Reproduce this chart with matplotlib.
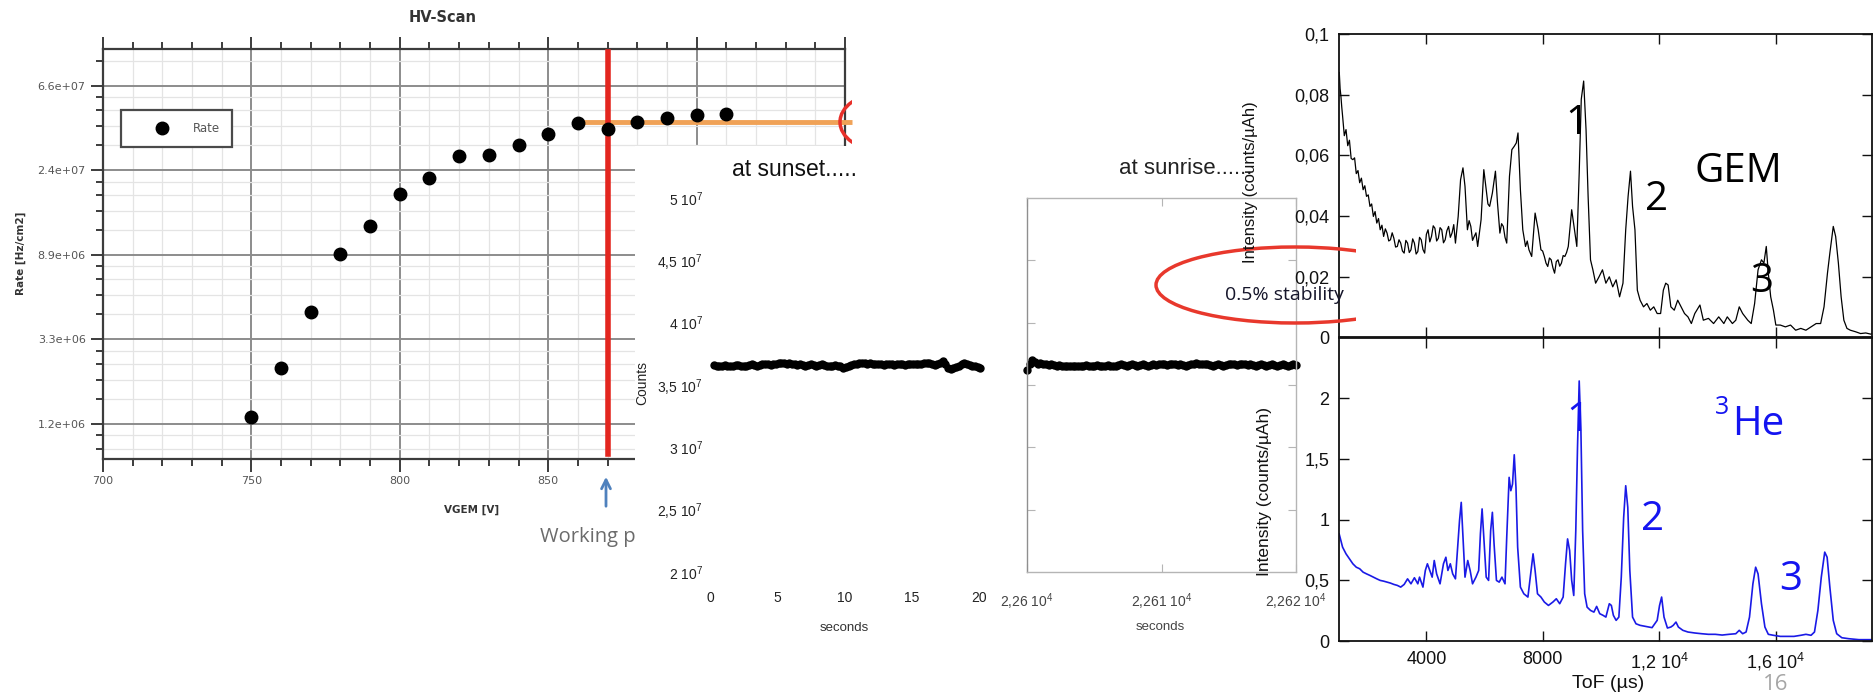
import numpy as np
import matplotlib
matplotlib.use('Agg')
import matplotlib.pyplot as plt
from matplotlib.patches import Ellipse, Rectangle
from matplotlib.transforms import Bbox, TransformedBbox
from matplotlib.ticker import FixedLocator, FuncFormatter, NullFormatter

plt.rcParams['font.family'] = ['Liberation Sans', 'DejaVu Sans']
plt.rcParams['mathtext.fontset'] = 'custom'
plt.rcParams['mathtext.rm'] = 'Liberation Sans'
plt.rcParams['mathtext.it'] = 'Liberation Sans:italic'
plt.rcParams['mathtext.bf'] = 'Liberation Sans:bold'

# ---------------- data ----------------
# HV scan
hv_volt = [750, 760, 770, 780, 790, 800, 810, 820, 830, 840, 850, 860, 870, 880, 890, 900, 910]
hv_rate = [1.31e6, 2.32e6, 4.5e6, 9.0e6, 1.25e7, 1.82e7, 2.2e7, 2.86e7, 2.89e7, 3.25e7,
           3.72e7, 4.2e7, 3.95e7, 4.28e7, 4.5e7, 4.65e7, 4.7e7]
working_v = 870
plateau_start = 860
plateau_end = 952.5
plateau_rate = 4.27e7

# stability runs (counts in units of 1e7)
sunset_counts = [3.66, 3.655, 3.65, 3.655, 3.66, 3.655, 3.65, 3.655, 3.66, 3.66,
                 3.655, 3.65, 3.655, 3.66, 3.665, 3.66, 3.655, 3.66, 3.665, 3.67,
                 3.665, 3.66, 3.665, 3.67, 3.675, 3.68, 3.675, 3.67, 3.675, 3.67,
                 3.665, 3.66, 3.665, 3.66, 3.655, 3.66, 3.665, 3.66, 3.655, 3.66,
                 3.665, 3.66, 3.655, 3.65, 3.655, 3.66, 3.655, 3.65, 3.64, 3.645,
                 3.655, 3.66, 3.665, 3.67, 3.675, 3.68, 3.675, 3.67, 3.675, 3.67,
                 3.665, 3.67, 3.665, 3.66, 3.665, 3.67, 3.665, 3.66, 3.665, 3.67,
                 3.665, 3.66, 3.665, 3.67, 3.665, 3.67, 3.665, 3.67, 3.675, 3.68,
                 3.675, 3.67, 3.66, 3.665, 3.68, 3.695, 3.67, 3.64, 3.63, 3.635,
                 3.645, 3.655, 3.665, 3.675, 3.67, 3.66, 3.655, 3.65, 3.645, 3.64]
sunset_t0, sunset_t1 = 0.3, 20.1
sunrise_counts = [3.62, 3.665, 3.70, 3.685, 3.67, 3.675, 3.665, 3.67, 3.66, 3.665,
                  3.66, 3.655, 3.66, 3.655, 3.65, 3.655, 3.65, 3.655, 3.65, 3.655,
                  3.65, 3.655, 3.66, 3.655, 3.65, 3.655, 3.66, 3.655, 3.65, 3.655,
                  3.66, 3.655, 3.65, 3.655, 3.66, 3.665, 3.66, 3.655, 3.66, 3.665,
                  3.66, 3.655, 3.66, 3.665, 3.66, 3.655, 3.66, 3.665, 3.66, 3.665,
                  3.67, 3.665, 3.66, 3.665, 3.67, 3.665, 3.66, 3.665, 3.66, 3.655,
                  3.66, 3.665, 3.67, 3.675, 3.67, 3.665, 3.67, 3.665, 3.66, 3.655,
                  3.66, 3.665, 3.66, 3.655, 3.66, 3.665, 3.67, 3.665, 3.66, 3.665,
                  3.67, 3.665, 3.66, 3.665, 3.66, 3.655, 3.66, 3.665, 3.66, 3.655,
                  3.66, 3.665, 3.66, 3.655, 3.66, 3.665, 3.66, 3.655, 3.66, 3.665, 3.66]
sunrise_t0, sunrise_t1 = 22600.0, 22620.0

# ToF spectra
tof_gem = [1010, 1038, 1065, 1094, 1123, 1182, 1241, 1300, 1358, 1417, 1476, 1535, 1593, 1652,
           1710, 1769, 1828, 1886, 1945, 2004, 2063, 2121, 2180, 2239, 2297, 2356, 2415, 2474,
           2532, 2591, 2650, 2708, 2767, 2826, 2884, 2943, 3002, 3060, 3119, 3178, 3237, 3295,
           3354, 3413, 3471, 3530, 3589, 3648, 3706, 3765, 3824, 3882, 3941, 4000, 4058, 4117,
           4176, 4235, 4293, 4352, 4411, 4470, 4528, 4587, 4645, 4704, 4763, 4822, 4880, 4940,
           4998, 5092, 5174, 5256, 5326, 5409, 5468, 5526, 5585, 5643, 5702, 5761, 5878, 5972,
           6054, 6113, 6172, 6266, 6371, 6442, 6524, 6583, 6641, 6700, 6759, 6853, 6935,
           7017, 7087, 7146, 7228, 7310, 7404, 7463, 7522, 7616, 7733, 7839, 7933, 7991, 8050,
           8108, 8167, 8226, 8285, 8344, 8402, 8461, 8520, 8578, 8637, 8696, 8754, 8813, 8872,
           8989, 9083, 9165, 9247, 9318, 9400, 9482, 9553, 9635,
           9717, 9811, 9928, 10046, 10163, 10281, 10398, 10515, 10633, 10750, 10844, 10926,
           11008, 11079, 11161, 11243, 11337, 11455, 11572, 11689, 11807, 11924, 12042, 12136,
           12218, 12300, 12394, 12511, 12629, 12746, 12863, 12981, 13098, 13216, 13392, 13509,
           13685, 13861, 14037, 14213, 14331, 14507, 14624, 14742, 14859, 15035, 15153, 15270,
           15388, 15505, 15588, 15670, 15740, 15822, 15916, 15998, 16151, 16327, 16503, 16679,
           16855, 17031, 17207, 17383, 17536, 17653, 17771, 17853, 17970, 18052, 18146, 18240,
           18334, 18440, 18557, 18733, 18909, 19085, 19261, 19414]
int_gem = [0.0873, 0.0820, 0.0796, 0.0760, 0.0730, 0.0665, 0.0685, 0.0632, 0.0650, 0.0590,
           0.0586, 0.0592, 0.0540, 0.0550, 0.0510, 0.0525, 0.0487, 0.0500, 0.0465, 0.0470,
           0.0432, 0.0440, 0.0399, 0.0415, 0.0377, 0.0392, 0.0355, 0.0370, 0.0333, 0.0358,
           0.0344, 0.0318, 0.0322, 0.0345, 0.0327, 0.0298, 0.0300, 0.0322, 0.0311, 0.0285,
           0.0278, 0.0320, 0.0311, 0.0280, 0.0289, 0.0325, 0.0311, 0.0275, 0.0283, 0.0330,
           0.0322, 0.0290, 0.0278, 0.0340, 0.0355, 0.0315, 0.0333, 0.0368, 0.0360, 0.0318,
           0.0327, 0.0362, 0.0355, 0.0312, 0.0322, 0.0352, 0.0366, 0.0330, 0.0344, 0.0372,
           0.0311, 0.0399, 0.0520, 0.0559, 0.0498, 0.0355, 0.0385, 0.0366, 0.0320, 0.0333,
           0.0345, 0.0300, 0.0388, 0.0553, 0.0487, 0.0440, 0.0432, 0.0476, 0.0548, 0.0443,
           0.0344, 0.0375, 0.0366, 0.0330, 0.0311, 0.0531, 0.0619, 0.0630, 0.0641, 0.0674,
           0.0487, 0.0355, 0.0300, 0.0318, 0.0289, 0.0267, 0.0410, 0.0355, 0.0289, 0.0285,
           0.0267, 0.0245, 0.0234, 0.0262, 0.0256, 0.0230, 0.0212, 0.0250, 0.0256, 0.0235,
           0.0245, 0.0270, 0.0267, 0.0280, 0.0300, 0.0421, 0.0355, 0.0300, 0.0542, 0.0785,
           0.0845, 0.0685, 0.0465, 0.0256, 0.0223, 0.0179, 0.0200, 0.0223, 0.0179, 0.0200,
           0.0167, 0.0190, 0.0134, 0.0179, 0.0355, 0.0465, 0.0548, 0.0432, 0.0355, 0.0156,
           0.0123, 0.0101, 0.0112, 0.0090, 0.0101, 0.0079, 0.0079, 0.0156, 0.0179, 0.0173,
           0.0101, 0.0090, 0.0123, 0.0101, 0.0079, 0.0068, 0.0046, 0.0079, 0.0107, 0.0057,
           0.0063, 0.0046, 0.0068, 0.0046, 0.0068, 0.0046, 0.0057, 0.0101, 0.0079, 0.0057,
           0.0046, 0.0112, 0.0223, 0.0256, 0.0245, 0.0300, 0.0212, 0.0134, 0.0090, 0.0041,
           0.0041, 0.0035, 0.0041, 0.0024, 0.0030, 0.0024, 0.0035, 0.0046, 0.0046, 0.0101,
           0.0212, 0.0278, 0.0366, 0.0333, 0.0245, 0.0134, 0.0057, 0.0030, 0.0024, 0.0019,
           0.0013, 0.0015, 0.0011, 0.0019]
tof_he = [1006, 1065, 1123, 1241, 1358, 1476, 1593, 1710, 1828, 1945, 2063, 2180, 2297, 2415,
          2532, 2650, 2767, 2884, 3002, 3119, 3237, 3354, 3471, 3589, 3706, 3765, 3882, 3964,
          4035, 4117, 4199, 4270, 4352, 4469, 4587, 4669, 4739, 4822, 4904, 4998, 5080, 5138,
          5197, 5256, 5326, 5420, 5502, 5585, 5702, 5796, 5855, 5913, 5972, 6054, 6136, 6207,
          6266, 6324, 6406, 6500, 6594, 6700, 6759, 6841, 6899, 6958, 7017, 7076, 7134, 7228,
          7346, 7486, 7580, 7663, 7733, 7815, 7933, 8050, 8191, 8344, 8461, 8578, 8696, 8778,
          8848, 8919, 8989, 9060, 9130, 9189, 9247, 9306, 9365, 9435, 9518, 9635, 9752, 9846,
          9952, 10069, 10163, 10281, 10351, 10421, 10515, 10609, 10692, 10774, 10844, 10915,
          10985, 11079, 11196, 11337, 11513, 11748, 11924, 12006, 12077, 12159, 12276, 12394,
          12476, 12570, 12652, 12805, 12981, 13216, 13450, 13685, 13920, 14155, 14390, 14624,
          14742, 14859, 14977, 15094, 15211, 15305, 15388, 15505, 15623, 15740, 15916, 16151,
          16386, 16620, 16855, 17031, 17207, 17325, 17442, 17559, 17677, 17759, 17853, 17970,
          18088, 18264, 18499, 18851, 19203, 19414]
int_he = [0.882, 0.827, 0.773, 0.718, 0.677, 0.636, 0.608, 0.595, 0.567, 0.553, 0.540, 0.526,
          0.512, 0.499, 0.493, 0.485, 0.477, 0.466, 0.458, 0.444, 0.466, 0.512, 0.471, 0.521,
          0.471, 0.526, 0.444, 0.581, 0.636, 0.581, 0.526, 0.663, 0.553, 0.471, 0.636, 0.690,
          0.581, 0.636, 0.553, 0.512, 0.800, 0.992, 1.142, 0.855, 0.526, 0.663, 0.581, 0.471,
          0.526, 0.581, 0.882, 1.088, 0.855, 0.526, 0.499, 0.910, 1.060, 0.800, 0.499, 0.485,
          0.526, 0.471, 0.855, 1.348, 1.238, 1.293, 1.534, 1.266, 0.773, 0.444, 0.389, 0.362,
          0.553, 0.718, 0.581, 0.389, 0.362, 0.321, 0.293, 0.321, 0.348, 0.307, 0.362, 0.636,
          0.841, 0.745, 0.499, 0.375, 0.910, 1.595, 2.142, 1.732, 0.910, 0.389, 0.279, 0.252,
          0.238, 0.285, 0.225, 0.211, 0.197, 0.307, 0.293, 0.211, 0.170, 0.197, 0.526, 1.019,
          1.279, 1.101, 0.581, 0.197, 0.142, 0.129, 0.121, 0.110, 0.170, 0.293, 0.362, 0.197,
          0.107, 0.115, 0.129, 0.156, 0.115, 0.088, 0.074, 0.066, 0.060, 0.055, 0.055, 0.049,
          0.055, 0.060, 0.088, 0.060, 0.074, 0.197, 0.471, 0.608, 0.553, 0.307, 0.115, 0.055,
          0.047, 0.038, 0.038, 0.038, 0.047, 0.055, 0.047, 0.074, 0.252, 0.526, 0.732, 0.690,
          0.444, 0.170, 0.060, 0.027, 0.019, 0.011, 0.011, 0.011]

# ---------------- layout helpers (pixel boxes of the slide) ----------------
W, H = 1875, 697
fig = plt.figure(figsize=(W / 100, H / 100), dpi=100)


def box(x0, y0, x1, y1):
    return [x0 / W, 1 - y1 / H, (x1 - x0) / W, (y1 - y0) / H]


def fx(x):
    return x / W


def fy(y):
    return 1 - y / H


def clip_left_of(artist, xpix):
    artist.set_clip_box(TransformedBbox(Bbox([[0, 0], [xpix / W, 1]]), fig.transFigure))


# ---------------- HV scan ----------------
ax_hv = fig.add_axes(box(103, 49, 845, 459))
ax_hv.set_zorder(0)
ax_hv.set_yscale('log', base=np.e)
ax_hv.set_xlim(700, 950)
ax_hv.set_ylim(np.exp(13.586), np.exp(18.434))
ax_hv.yaxis.set_major_locator(FixedLocator(np.exp([14, 15, 16, 17, 18])))
ax_hv.yaxis.set_major_formatter(FuncFormatter(lambda v, p: f'{v:.1e}'))
subs = [1.344, 1.687, 2.031, 2.375]
ax_hv.yaxis.set_minor_locator(FixedLocator([np.exp(k) * s for k in range(13, 19) for s in subs]))
ax_hv.yaxis.set_minor_formatter(NullFormatter())
ax_hv.xaxis.set_major_locator(FixedLocator([700, 750, 800, 850, 900, 950]))
ax_hv.xaxis.set_minor_locator(FixedLocator(np.arange(700, 951, 10)))
ax_hv.grid(which='major', color='#8c8c8c', lw=1.4)
ax_hv.grid(which='minor', color='#e4e4e4', lw=0.9)
ax_hv.set_axisbelow(True)
for s in ax_hv.spines.values():
    s.set_color('#3c3c3c')
    s.set_linewidth(1.6)
ax_hv.tick_params(which='both', direction='out', top=True, color='#3c3c3c', width=1.4,
                  labelsize=8, labelcolor='#555555')
ax_hv.tick_params(which='major', length=9)
ax_hv.tick_params(which='minor', length=5)
for lab in ax_hv.get_xticklabels() + ax_hv.get_yticklabels():
    lab.set_family('DejaVu Sans')

ax_hv.plot([plateau_start, plateau_end], [plateau_rate, plateau_rate], color='#f0a257', lw=3.5,
           solid_capstyle='butt', zorder=3, clip_on=False)
ax_hv.axvline(working_v, ymin=0.012, ymax=0.993, color='#e3261f', lw=4, zorder=4)
ax_hv.plot(hv_volt, hv_rate, 'o', color='black', ms=9, zorder=5, label='Rate')
leg = ax_hv.legend(loc='upper left', bbox_to_anchor=(0.024, 0.851), fancybox=False,
                   edgecolor='#4a4a4a', fontsize=8.5, handlelength=5.0, handletextpad=0.1,
                   borderpad=1.0, borderaxespad=0, framealpha=1)
leg.get_frame().set_linewidth(1.6)
for t in leg.get_texts():
    t.set_color('#555555')
    t.set_family('DejaVu Sans')

fig.text(fx(443), fy(18), 'HV-Scan', ha='center', va='center', fontsize=10.5,
         fontweight='bold', color='#333333', family='DejaVu Sans')
fig.text(fx(21), fy(253), 'Rate [Hz/cm2]', rotation=90, ha='center', va='center',
         fontsize=7.5, fontweight='bold', color='#333333', family='DejaVu Sans')
fig.text(fx(472), fy(510), 'VGEM [V]', ha='center', va='center', fontsize=7.5,
         fontweight='bold', color='#333333', family='DejaVu Sans')
t_wp = fig.text(fx(540), fy(537), 'Working point', ha='left', va='center', fontsize=14.5,
                color='#6b6b6b', family=['Open Sans', 'DejaVu Sans'])
t_wp.set_zorder(0.5)
ax_hv.annotate('', xy=(fx(606), fy(474)), xytext=(fx(606), fy(509)),
               xycoords='figure fraction', textcoords='figure fraction',
               arrowprops=dict(arrowstyle='->', color='#4f81bd', lw=2, mutation_scale=16))

el_hv = Ellipse((fx(880), fy(122)), 80 / W, 56 / H, transform=fig.transFigure, fill=False,
                ec='#e8302a', lw=2.5, zorder=0.8)
fig.add_artist(el_hv)
clip_left_of(el_hv, 852)

# white panel of the stability plots
fig.add_artist(Rectangle((fx(635), 0), 1, fy(146), transform=fig.transFigure,
                         facecolor='white', edgecolor='none', zorder=1))


def counts_fmt(v, p):
    return f'{v / 1e7:g}'.replace('.', ',') + r' 10$^{7}$'


# ---------------- at sunset ----------------
ax_ss = fig.add_axes(box(710, 198, 979, 572))
ax_ss.set_zorder(2)
ax_ss.patch.set_visible(False)
ax_ss.set_xlim(0, 20)
ax_ss.set_ylim(2e7, 5e7)
for s in ax_ss.spines.values():
    s.set_visible(False)
ax_ss.set_yticks(np.arange(2e7, 5.01e7, 0.5e7))
ax_ss.yaxis.set_major_formatter(FuncFormatter(counts_fmt))
ax_ss.set_xticks([0, 5, 10, 15, 20])
ax_ss.tick_params(length=0, labelsize=10, labelcolor='#222222')
ax_ss.tick_params(axis='y', pad=5)
ax_ss.tick_params(axis='x', pad=14)
t_ss = np.linspace(sunset_t0, sunset_t1, len(sunset_counts))
ax_ss.plot(t_ss, np.array(sunset_counts) * 1e7, 'o-', color='black', ms=5, lw=1.6, clip_on=False)
fig.text(fx(795), fy(170), 'at sunset.....', ha='center', va='center', fontsize=16.5,
         color='#111111')
fig.text(fx(642), fy(383), 'Counts', rotation=90, ha='center', va='center', fontsize=10,
         color='#222222')
fig.text(fx(844), fy(628), 'seconds', ha='center', va='center', fontsize=9.5, color='#333333')

# ---------------- at sunrise ----------------
ax_sr = fig.add_axes(box(1027, 198, 1296, 572))
ax_sr.set_zorder(2)
ax_sr.patch.set_visible(False)
ax_sr.set_xlim(sunrise_t0, sunrise_t1)
ax_sr.set_ylim(2e7, 5e7)
for s in ax_sr.spines.values():
    s.set_color('#b5b5b5')
    s.set_linewidth(1.0)
ax_sr.spines['left'].set_color('#8f8f8f')
ax_sr.set_yticks(np.arange(2.5e7, 4.51e7, 0.5e7))
ax_sr.set_xticks([22600, 22610, 22620])
ax_sr.set_xticklabels([r'2,26 10$^{4}$', r'2,261 10$^{4}$', r'2,262 10$^{4}$'])
ax_sr.tick_params(direction='in', length=6, color='#b5b5b5', top=True, right=True,
                  labelleft=False, labelsize=10, labelcolor='#444444')
ax_sr.tick_params(axis='x', pad=14)
t_sr = np.linspace(sunrise_t0, sunrise_t1, len(sunrise_counts))
ax_sr.plot(t_sr, np.array(sunrise_counts) * 1e7, 'o-', color='black', ms=5, lw=1.6, clip_on=False)
fig.text(fx(1186), fy(168), 'at sunrise......', ha='center', va='center', fontsize=16,
         color='#222222')
fig.text(fx(1160), fy(627), 'seconds', ha='center', va='center', fontsize=9.5, color='#444444')

# stability mark
el_st = Ellipse((fx(1295), fy(285)), 278 / W, 76 / H, transform=fig.transFigure, fill=False,
                ec='#e8382c', lw=2.5, zorder=5)
fig.add_artist(el_st)
clip_left_of(el_st, 1356)
fig.text(fx(1284), fy(295), '0.5% stability', ha='center', va='center', fontsize=14,
         color='#15152a', family=['Liberation Sans Narrow', 'Open Sans', 'DejaVu Sans'], zorder=5)

# ---------------- ToF spectra ----------------
ax_gem = fig.add_axes(box(1339, 34, 1872, 337.5))
ax_he = fig.add_axes(box(1339, 337.5, 1872, 641))
for ax in (ax_gem, ax_he):
    ax.set_zorder(4)
    ax.set_facecolor('white')
    ax.set_xlim(1000, 19300)
    ax.set_xticks([4000, 8000, 12000, 16000])
    for s in ax.spines.values():
        s.set_color('#111111')
        s.set_linewidth(1.3)
    ax.tick_params(direction='in', length=7, width=1, color='#111111', top=True, right=True,
                   labelsize=13, labelcolor='#111111', pad=7)
ax_gem.set_ylim(0, 0.1)
ax_gem.set_yticks([0, 0.02, 0.04, 0.06, 0.08, 0.1])
ax_gem.set_yticklabels(['0', '0,02', '0,04', '0,06', '0,08', '0,1'])
ax_gem.tick_params(labelbottom=False)
ax_he.set_ylim(0, 2.5)
ax_he.set_yticks([0, 0.5, 1, 1.5, 2])
ax_he.set_yticklabels(['0', '0,5', '1', '1,5', '2'])
ax_he.set_xticklabels(['4000', '8000', r'1,2 10$^{4}$', r'1,6 10$^{4}$'])

ax_gem.plot(tof_gem, int_gem, color='black', lw=0.9)
ax_he.plot(tof_he, int_he, color='#1a1ae6', lw=1.2)

fig.text(fx(1250), fy(182), 'Intensity (counts/µAh)', rotation=90, ha='center', va='center',
         fontsize=12, color='#111111', zorder=6)
fig.text(fx(1265), fy(492), 'Intensity (counts/µAh)', rotation=90, ha='center', va='center',
         fontsize=12.5, color='#111111', zorder=6)
fig.text(fx(1608), fy(683), 'ToF (µs)', ha='center', va='center', fontsize=14, color='#111111')
fig.text(fx(1776), fy(685), '16', ha='center', va='center', fontsize=16, color='#a6a6a6',
         family=['Open Sans', 'DejaVu Sans'])

big = ['Open Sans', 'DejaVu Sans']
for x, y, s in [(1577, 124, '1'), (1657, 200, '2'), (1738, 172, 'GEM'), (1762, 282, '3')]:
    fig.text(fx(x), fy(y), s, ha='center', va='center', fontsize=29, color='black',
             family=big, zorder=6)
blue = '#1414f0'
for x, y, s in [(1578, 421, '1'), (1653, 520, '2'), (1791, 580, '3')]:
    fig.text(fx(x), fy(y), s, ha='center', va='center', fontsize=29, color=blue,
             family=big, zorder=6)
fig.text(fx(1758), fy(425), 'He', ha='center', va='center', fontsize=29, color=blue,
         family=big, zorder=6)
fig.text(fx(1722), fy(408), '3', ha='center', va='center', fontsize=18, color=blue,
         family=big, zorder=6)

fig.savefig('out.png', dpi=100, facecolor='white')
